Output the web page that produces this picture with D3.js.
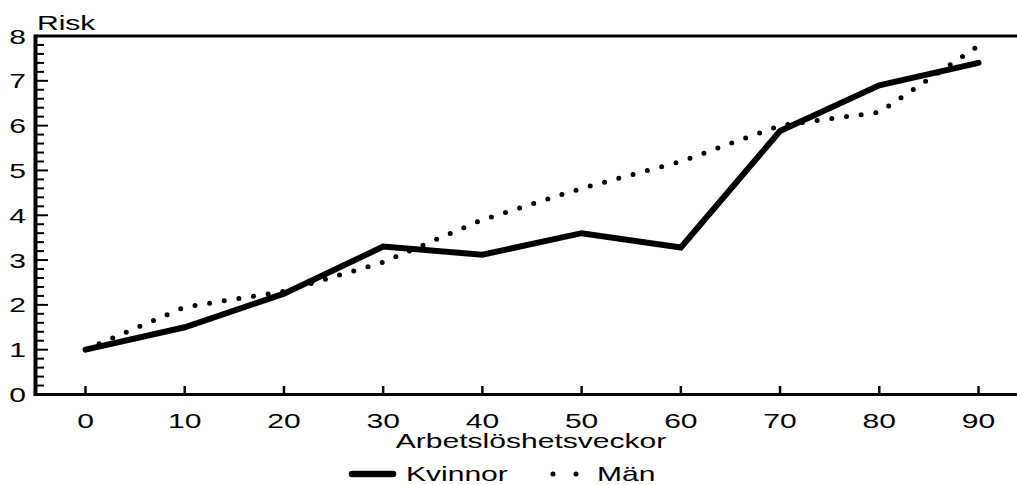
<!DOCTYPE html>
<html><head><meta charset="utf-8">
<script src="https://cdn.jsdelivr.net/npm/d3@7"></script>
<style>html,body{margin:0;padding:0;background:#fff;} svg{display:block;}</style>
</head><body>
<svg id="c" width="1017" height="485"></svg>
<script>
const weeks = [0, 10, 20, 30, 40, 50, 60, 70, 80, 90];
const kvinnor = [1.0, 1.5, 2.25, 3.3, 3.12, 3.6, 3.28, 5.88, 6.9, 7.4];
const man = [1.0, 1.95, 2.3, 2.95, 3.9, 4.6, 5.2, 6.0, 6.3, 7.78];
const yTicks = [0, 1, 2, 3, 4, 5, 6, 7, 8];
const seriesNames = ["Kvinnor", "Män"];
const yTitle = "Risk";
const xTitle = "Arbetslöshetsveckor";

const svg = d3.select("#c");
const FS = 21, SX = 1.43, FONT = "'Liberation Sans', Arial, sans-serif";
const x = d3.scaleLinear().domain([0, 90]).range([85.5, 978.5]);
const y = d3.scaleLinear().domain([0, 8]).range([394.5, 36]);
const axL = 35.5;

function txt(px, py, s, anchor) {
  svg.append("text")
    .attr("transform", `translate(${px},${py}) scale(${SX},1)`)
    .attr("text-anchor", anchor)
    .attr("font-family", FONT).attr("font-size", FS)
    .attr("fill", "#000").text(s);
}

// frame lines
svg.append("line").attr("x1", axL).attr("x2", 1017).attr("y1", y(8)).attr("y2", y(8))
  .attr("stroke", "#000").attr("stroke-width", 3);
svg.append("line").attr("x1", axL).attr("x2", 1017).attr("y1", y(0)).attr("y2", y(0))
  .attr("stroke", "#000").attr("stroke-width", 3);
svg.append("line").attr("x1", axL).attr("x2", axL).attr("y1", y(8) - 1.5).attr("y2", y(0) + 1.5)
  .attr("stroke", "#000").attr("stroke-width", 4);

// y ticks (major + minor, inward)
const minor = d3.range(0, 8.0001, 0.2).map(v => Math.round(v * 10) / 10);
svg.append("g").selectAll("line").data(minor).join("line")
  .attr("x1", axL).attr("x2", d => Number.isInteger(d) ? 48 : 44)
  .attr("y1", d => y(d)).attr("y2", d => y(d))
  .attr("stroke", "#000").attr("stroke-width", 2);
yTicks.forEach(v => txt(26, y(v) + 7.5, String(v), "end"));

// x ticks (inward)
svg.append("g").selectAll("line").data(weeks).join("line")
  .attr("x1", d => x(d)).attr("x2", d => x(d))
  .attr("y1", y(0)).attr("y2", y(0) - 8.5)
  .attr("stroke", "#000").attr("stroke-width", 2.5);
weeks.forEach(v => txt(x(v), 428, String(v), "middle"));

// titles
txt(37, 30, yTitle, "start");
txt(531, 448, xTitle, "middle");

// lines
const line = d3.line().x((d, i) => x(weeks[i])).y(d => y(d));
svg.append("path").datum(man).attr("d", line).attr("fill", "none")
  .attr("stroke", "#000").attr("stroke-width", 5)
  .attr("stroke-linecap", "round").attr("stroke-dasharray", "0 14.8");
svg.append("path").datum(kvinnor).attr("d", line).attr("fill", "none")
  .attr("stroke", "#000").attr("stroke-width", 6)
  .attr("stroke-linejoin", "miter").attr("stroke-linecap", "round");

// legend
svg.append("line").attr("x1", 352).attr("x2", 393).attr("y1", 474).attr("y2", 474)
  .attr("stroke", "#000").attr("stroke-width", 6.5).attr("stroke-linecap", "round");
txt(406, 481, seriesNames[0], "start");
svg.append("line").attr("x1", 553).attr("x2", 577).attr("y1", 474).attr("y2", 474)
  .attr("stroke", "#000").attr("stroke-width", 5)
  .attr("stroke-linecap", "round").attr("stroke-dasharray", "0 23");
txt(597, 481, seriesNames[1], "start");
</script>
</body></html>
